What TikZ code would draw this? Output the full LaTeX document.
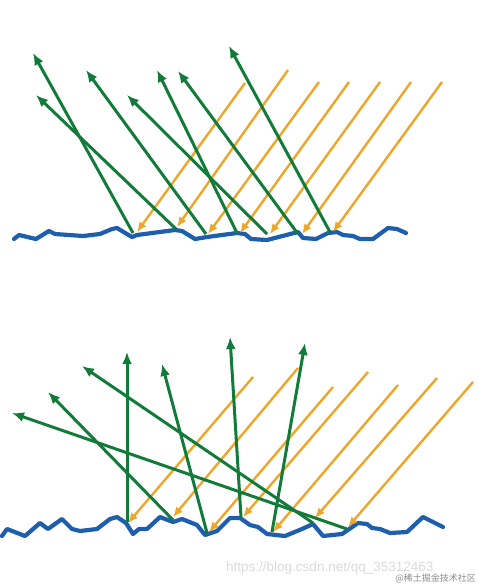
\documentclass[tikz,border=0pt]{standalone}
\usepackage{fontspec}
\setmainfont{Liberation Sans}
\newfontfamily\cjk{Noto Sans CJK SC}
\usetikzlibrary{arrows.meta}
\definecolor{ground}{HTML}{1D5FAD}
\definecolor{incident}{HTML}{EEA62A}
\definecolor{reflected}{HTML}{137B3A}
\definecolor{wmark}{HTML}{DADADA}
\definecolor{wsite}{HTML}{8A8A8A}
\tikzset{
  surface/.style={draw=ground, line width=4.2pt, line join=round, line cap=round},
  inray/.style={draw=incident, line width=2.4pt, -{Latex[length=10pt,width=8.5pt]}},
  outray/.style={draw=reflected, line width=3pt, -{Latex[length=12pt,width=10pt]}}
}

\begin{document}
\begin{tikzpicture}[x=1pt, y=-1pt]
  \useasboundingbox (0,0) rectangle (479,587);
  % smooth-ish surface: specular reflection
  \draw[surface] (14,239) -- (19,235) -- (36,239) -- (49,231) -- (55,234) -- (83,236)
    -- (100,234) -- (112,229) -- (117,228) -- (132,237) -- (137,235) -- (175,230)
    -- (182,231) -- (195,239) -- (207,237) -- (237,233) -- (245,234) -- (251,239)
    -- (267,240) -- (298,232) -- (303,238) -- (316,239) -- (328,233) -- (337,232)
    -- (343,235) -- (353,236) -- (360,239) -- (373,239) -- (388,228) -- (397,229) -- (406,233);
  \foreach \n/\ex/\ey/\sx/\sy in {1/137/232/245/83, 2/177/227/288/70, 3/208/234/319/82,
      4/240/233/349/82, 5/270/234/380/82, 6/302/234/411/82, 7/333/232/442/82} {
    \coordinate (ti\n) at (\ex,\ey);
    \coordinate (ts\n) at (\sx,\sy);
    \draw[inray] (ts\n) -- (ti\n);
  }
  \foreach \n/\hx/\hy/\rx/\ry in {1/133/233/33/53, 2/176/229/36/95, 3/206/234/86/70,
      4/237/233/157/70, 5/267/234/127/95, 6/298/234/178/71, 7/330/232/229/46} {
    \coordinate (th\n) at (\hx,\hy);
    \coordinate (tr\n) at (\rx,\ry);
    \draw[outray] (th\n) -- (tr\n);
  }

  % rough surface: diffuse reflection
  \draw[surface] (2,536) -- (7,529) -- (25,536) -- (40,523) -- (48,529) -- (62,519)
    -- (72,529) -- (80,531) -- (97,529) -- (110,519) -- (117,517) -- (126,523)
    -- (133,534) -- (139,529) -- (147,529) -- (160,517) -- (173,522) -- (182,519)
    -- (197,525) -- (205,535) -- (217,531) -- (230,518) -- (240,518) -- (250,525)
    -- (258,527) -- (267,534) -- (285,536) -- (302,529) -- (313,524) -- (323,536)
    -- (342,534) -- (358,523) -- (367,524) -- (372,528) -- (380,529) -- (390,533)
    -- (407,532) -- (423,517) -- (435,523) -- (443,527);
  \foreach \n/\ex/\ey/\sx/\sy in {1/128/523/253/377, 2/173/517/298/368, 3/209/532/333/387,
      4/243/517/368/372, 5/273/532/398/385, 6/315/518/437/378, 7/348/527/473/382} {
    \coordinate (bi\n) at (\ex,\ey);
    \coordinate (bs\n) at (\sx,\sy);
    \draw[inray] (bs\n) -- (bi\n);
  }
  \foreach \n/\hx/\hy/\rx/\ry in {1/127/522/127/352, 2/173/520/48/392, 3/207/533/162/364,
      4/241/517/230/337, 5/272/532/305/343, 6/313/523/82/366, 7/347/529/12/413} {
    \coordinate (bh\n) at (\hx,\hy);
    \coordinate (br\n) at (\rx,\ry);
    \draw[outray] (bh\n) -- (br\n);
  }

  \node[text=wmark, font=\fontsize{13.5}{14}\selectfont, anchor=west, inner sep=0pt] (url) at (226,568) {https://blog.csdn.net/qq\_35312463};
  \node[text=wsite, font=\cjk\fontsize{9}{10}\selectfont, anchor=east, inner sep=0pt] (site) at (476,578) {@稀土掘金技术社区};
\end{tikzpicture}
\end{document}
